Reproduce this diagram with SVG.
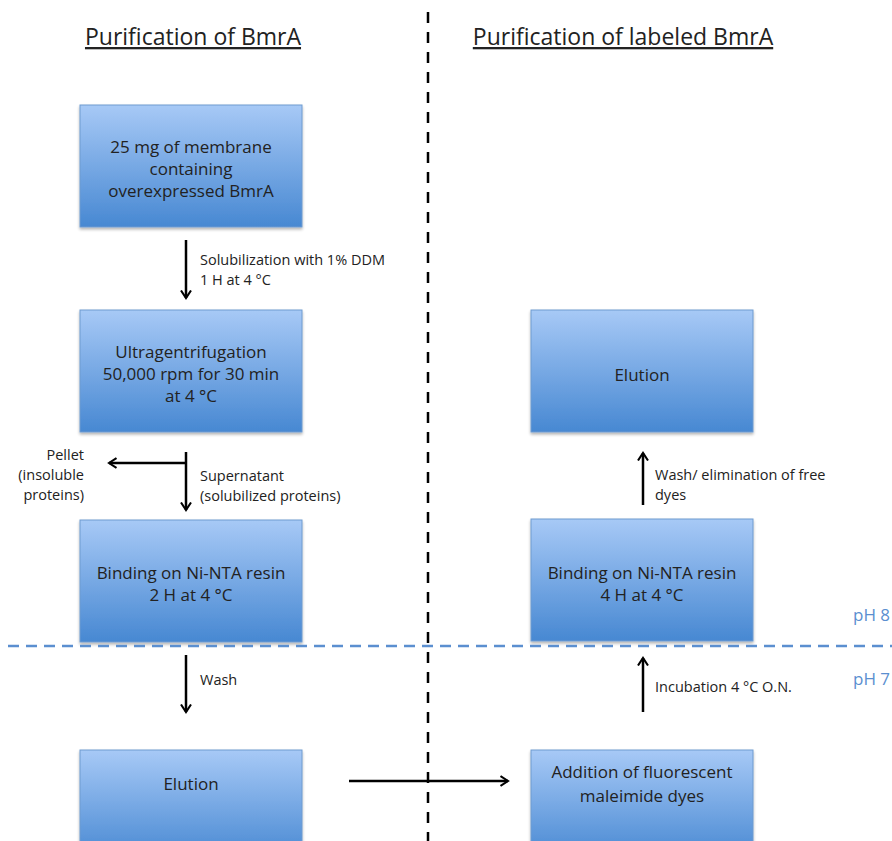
<svg xmlns="http://www.w3.org/2000/svg" width="892" height="841" viewBox="0 0 892 841">
<style>
.box{fill:url(#g);stroke:#6f9bd0;stroke-width:1;filter:url(#sh)}
.bt{font-family:"Open Sans","Liberation Sans",sans-serif;font-size:17px;fill:#222;text-anchor:middle}
.lb{font-family:"Open Sans","Liberation Sans",sans-serif;font-size:14.5px;fill:#222}
.ti{font-family:"Open Sans","Liberation Sans",sans-serif;font-size:23px;fill:#222;text-decoration:underline}
.ph{font-family:"Open Sans","Liberation Sans",sans-serif;font-size:17px;fill:#5b8fd0}
.ar{stroke:#000;stroke-width:2.5;fill:none;marker-end:url(#ah)}
</style>
<defs>
<linearGradient id="g" x1="0" y1="0" x2="0" y2="1">
<stop offset="0" stop-color="#a7c9f6"/>
<stop offset="1" stop-color="#4788d2"/>
</linearGradient>
<filter id="sh" x="-10%" y="-10%" width="120%" height="125%">
<feGaussianBlur in="SourceAlpha" stdDeviation="1.5"/>
<feOffset dx="0" dy="2"/>
<feComponentTransfer><feFuncA type="linear" slope="0.3"/></feComponentTransfer>
<feMerge><feMergeNode/><feMergeNode in="SourceGraphic"/></feMerge>
</filter>
<marker id="ah" viewBox="0 0 12 14" refX="10" refY="7" markerWidth="10" markerHeight="14" orient="auto" markerUnits="userSpaceOnUse">
<path d="M1,1 L10,7 L1,13" fill="none" stroke="#000" stroke-width="2.5"/>
</marker>
</defs>
<rect width="892" height="841" fill="#fff"/>
<text class="ti" x="193" y="45" text-anchor="middle">Purification of BmrA</text>
<text class="ti" x="623" y="45" text-anchor="middle">Purification of labeled BmrA</text>
<line x1="428" y1="12" x2="428" y2="841" stroke="#000" stroke-width="2.5" stroke-dasharray="11,9"/>
<g id="n1"><rect class="box" x="80" y="105" width="222" height="122"/>
<text class="bt" x="191" y="153">25 mg of membrane</text><text class="bt" x="191" y="175">containing</text><text class="bt" x="191" y="197">overexpressed BmrA</text></g>
<g id="n2"><rect class="box" x="80" y="310" width="222" height="122"/>
<text class="bt" x="191" y="358">Ultragentrifugation</text><text class="bt" x="191" y="380">50,000 rpm for 30 min</text><text class="bt" x="191" y="402">at 4 °C</text></g>
<g id="n3"><rect class="box" x="80" y="520" width="222" height="122"/>
<text class="bt" x="191" y="579">Binding on Ni-NTA resin</text><text class="bt" x="191" y="601">2 H at 4 °C</text></g>
<g id="n4"><rect class="box" x="80" y="750" width="222" height="110"/>
<text class="bt" x="191" y="790">Elution</text></g>
<g id="n5"><rect class="box" x="531" y="310" width="222" height="122"/>
<text class="bt" x="642" y="381">Elution</text></g>
<g id="n6"><rect class="box" x="531" y="519" width="222" height="122"/>
<text class="bt" x="642" y="579">Binding on Ni-NTA resin</text><text class="bt" x="642" y="601">4 H at 4 °C</text></g>
<g id="n7"><rect class="box" x="531" y="750" width="222" height="110"/>
<text class="bt" x="642" y="778">Addition of fluorescent</text><text class="bt" x="642" y="802">maleimide dyes</text></g>
<line x1="8" y1="646" x2="892" y2="646" stroke="#5b8fd0" stroke-width="2.5" stroke-dasharray="11,7"/>
<text class="ph" x="853" y="621">pH 8</text>
<text class="ph" x="853" y="685">pH 7</text>
<g id="connectors">
<line class="ar" x1="186" y1="240" x2="186" y2="298"/>
<polyline points="186,452 186,463" stroke="#000" stroke-width="2.5" fill="none"/>
<line class="ar" x1="186" y1="463" x2="186" y2="510"/>
<line class="ar" x1="187" y1="463" x2="109" y2="463"/>
<line class="ar" x1="643" y1="505" x2="643" y2="453"/>
<line class="ar" x1="186" y1="655" x2="186" y2="712"/>
<line class="ar" x1="643" y1="712" x2="643" y2="658"/>
<line class="ar" x1="349" y1="781" x2="508" y2="781"/>
</g>
<text class="lb" x="200" y="265">Solubilization with 1% DDM</text>
<text class="lb" x="200" y="285">1 H at 4 °C</text>
<text class="lb" x="84" y="460" text-anchor="end">Pellet</text>
<text class="lb" x="84" y="480" text-anchor="end">(insoluble</text>
<text class="lb" x="84" y="500" text-anchor="end">proteins)</text>
<text class="lb" x="200" y="481">Supernatant</text>
<text class="lb" x="200" y="501">(solubilized proteins)</text>
<text class="lb" x="655" y="480">Wash/ elimination of free</text>
<text class="lb" x="655" y="500">dyes</text>
<text class="lb" x="200" y="685">Wash</text>
<text class="lb" x="655" y="692">Incubation 4 °C O.N.</text>
</svg>
